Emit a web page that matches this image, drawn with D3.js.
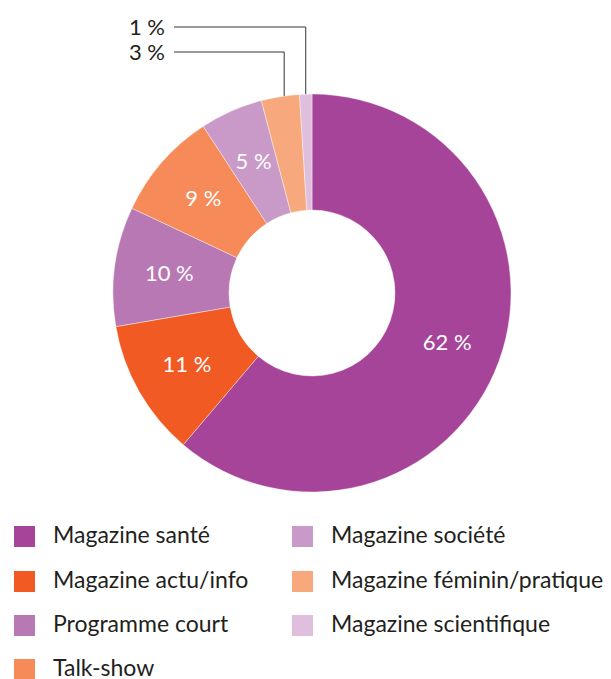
<!DOCTYPE html>
<html>
<head>
<meta charset="utf-8">
<script src="https://cdn.jsdelivr.net/npm/d3@7"></script>
<style>
  body { margin: 0; background: #fff; }
  text { font-family: Lato, "Open Sans", sans-serif; }
</style>
</head>
<body>
<div id="chart"></div>
<script>
// categories, clockwise from the top
const categories = ['Magazine santé', 'Magazine actu/info', 'Programme court', 'Talk-show',
  'Magazine société', 'Magazine féminin/pratique', 'Magazine scientifique'];
// shares
const values = [61.2, 11.1, 9.7, 8.8, 5.1, 3.1, 1.0];
// printed labels
const labels = ['62 %', '11 %', '10 %', '9 %', '5 %', '3 %', '1 %'];
const colors = ['#a54499', '#f15a22', '#b878b3', '#f68a59', '#c999c7', '#f7a97d', '#dfbfdd'];
// slices labelled outside with a leader line
const outside = ['Magazine féminin/pratique', 'Magazine scientifique'];

const width = 611, height = 679;
const cx = 312, cy = 293, outerR = 199, innerR = 83;

const svg = d3.select('#chart')
  .append('svg')
  .attr('width', width)
  .attr('height', height);

const g = svg.append('g')
  .attr('transform', `translate(${cx},${cy})`);

const pie = d3.pie().sort(null).value(d => d.value);
const arcs = pie(categories.map((c, i) => ({ cat: c, value: values[i], label: labels[i], color: colors[i] })));

const arc = d3.arc().innerRadius(innerR).outerRadius(outerR);
const labelArc = d3.arc().innerRadius(144).outerRadius(144);

g.selectAll('path.slice')
  .data(arcs)
  .enter()
  .append('path')
  .attr('class', 'slice')
  .attr('d', arc)
  .attr('fill', d => d.data.color)
  .attr('stroke', '#fff')
  .attr('stroke-width', 0.4);

// labels inside the ring
g.selectAll('text.inside')
  .data(arcs.filter(d => !outside.includes(d.data.cat)))
  .enter()
  .append('text')
  .attr('class', 'inside')
  .attr('transform', d => `translate(${labelArc.centroid(d)})`)
  .attr('text-anchor', 'middle')
  .attr('dy', '0.35em')
  .attr('fill', '#fff')
  .attr('font-size', 22)
  .text(d => d.data.label);

// leader lines for the thin slices
const leaderY = { 'Magazine scientifique': 27, 'Magazine féminin/pratique': 52 };
const leaderX0 = 174 - cx;
const outs = arcs.filter(d => outside.includes(d.data.cat));

g.selectAll('path.leader')
  .data(outs)
  .enter()
  .append('path')
  .attr('class', 'leader')
  .attr('fill', 'none')
  .attr('stroke', '#333')
  .attr('stroke-width', 1)
  .attr('d', d => {
    const a = (d.startAngle + d.endAngle) / 2 + (d.data.cat === 'Magazine féminin/pratique' ? 0.02 : 0);
    const x = outerR * Math.sin(a);
    const y = -outerR * Math.cos(a);
    const ly = leaderY[d.data.cat] - cy;
    return `M${leaderX0},${ly}H${x}V${y}`;
  });

g.selectAll('text.outside')
  .data(outs)
  .enter()
  .append('text')
  .attr('class', 'outside')
  .attr('x', leaderX0 - 9)
  .attr('y', d => leaderY[d.data.cat] - cy)
  .attr('dy', '0.35em')
  .attr('text-anchor', 'end')
  .attr('fill', '#231f20')
  .attr('font-size', 22)
  .text(d => d.data.label);

// legend: two columns
const legendCols = [
  { x: 14, items: [0, 1, 2, 3] },
  { x: 292, items: [4, 5, 6] }
];
const rowY = [526, 571, 615, 659];

legendCols.forEach(col => {
  const lg = svg.append('g');
  const rows = lg.selectAll('g')
    .data(col.items)
    .enter()
    .append('g')
    .attr('transform', (d, i) => `translate(${col.x},${rowY[i]})`);
  rows.append('rect')
    .attr('width', 21)
    .attr('height', 21)
    .attr('fill', d => colors[d]);
  rows.append('text')
    .attr('x', 39)
    .attr('y', 17)
    .attr('fill', '#231f20')
    .attr('font-size', 23)
    .text(d => categories[d]);
});
</script>
</body>
</html>
